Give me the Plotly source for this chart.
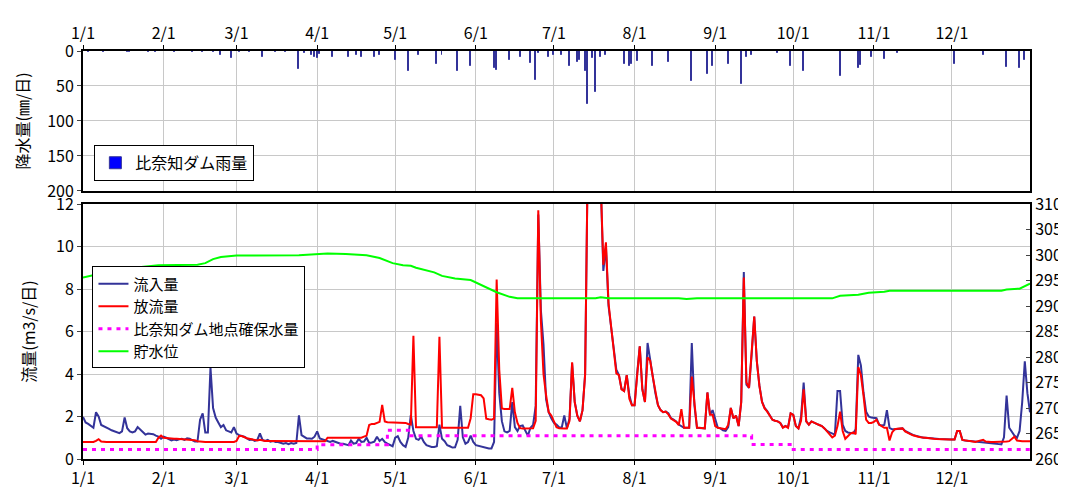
import pandas as pd
import plotly.graph_objects as go
from plotly.subplots import make_subplots

YEAR = "2021"
days = pd.date_range(f"{YEAR}-01-01", f"{YEAR}-12-31", freq="D")

# daily inflow (m3/s), one list per month
inflow_jan = [1.98, 1.72, 1.65, 1.57, 1.47, 2.2, 2.0, 1.6, 1.55, 1.5, 1.42, 1.35, 1.3, 1.25, 1.22, 1.3,
              1.95, 1.45, 1.3, 1.25, 1.3, 1.5, 1.38, 1.25, 1.15, 1.2, 1.2, 1.17, 1.1, 1.05, 0.95]
inflow_feb = [1.05, 1.0, 0.92, 0.88, 0.92, 0.88, 0.93, 0.95, 0.9, 0.97, 0.95, 0.88, 0.82, 0.82,
              1.85, 2.15, 1.25, 1.25, 4.3, 2.4, 1.95, 1.72, 1.5, 1.6, 1.35, 1.3, 1.25, 1.5]
inflow_mar = [1.2, 1.12, 1.08, 1.05, 0.97, 0.9, 0.92, 0.85, 0.9, 1.2, 0.9, 0.85, 0.9, 0.82, 0.85, 0.8,
              0.8, 0.75, 0.72, 0.75, 0.7, 0.75, 0.72, 0.75, 2.05, 1.12, 1.05, 0.97, 0.97, 0.95, 1.05]
inflow_apr = [1.3, 0.97, 0.93, 0.88, 0.84, 0.8, 0.85, 0.8, 0.75, 0.72, 0.72, 0.7, 0.65, 0.87, 0.72,
              0.75, 0.95, 0.8, 0.82, 1.0, 0.75, 0.78, 0.82, 1.05, 0.85, 0.95, 0.8, 0.72, 0.65, 0.6]
inflow_may = [1.0, 1.07, 0.8, 0.65, 0.57, 1.0, 2.07, 1.32, 0.95, 0.9, 1.05, 0.8, 0.65, 0.6, 0.57, 0.57,
              0.6, 1.62, 0.95, 0.84, 0.65, 0.6, 0.54, 0.55, 0.9, 2.5, 1.02, 0.72, 0.8, 1.1, 0.8]
inflow_jun = [0.65, 0.62, 0.6, 0.57, 0.52, 0.5, 0.5, 0.8, 6.4, 3.1, 1.78, 1.3, 1.25, 1.32, 2.68,
              1.5, 1.32, 1.55, 1.58, 1.35, 1.1, 1.47, 1.6, 2.5, 11.5, 7.0, 5.4, 2.8, 2.2, 1.92]
inflow_jul = [1.7, 1.62, 1.5, 1.47, 2.05, 1.45, 1.9, 4.5, 2.7, 2.04, 1.77, 2.3, 4.0, 14.0, 22.0, 24.0,
              20.0, 17.0, 13.0, 8.85, 10.0, 7.2, 6.3, 5.2, 4.2, 3.95, 3.3, 3.2, 3.95, 3.0, 2.53]
inflow_aug = [2.53, 4.03, 5.3, 3.28, 2.68, 5.46, 4.63, 3.88, 3.1, 2.53, 2.3, 2.2, 2.23, 2.15, 1.92,
              1.85, 1.77, 1.62, 1.55, 1.47, 1.47, 1.47, 5.46, 2.53, 1.47, 1.47, 1.45, 1.44, 3.13, 2.08, 2.3]
inflow_sep = [1.92, 1.47, 1.44, 1.35, 1.32, 1.5, 2.4, 1.92, 2.04, 1.55, 2.68, 8.8, 3.5, 3.35, 4.9,
              6.7, 4.6, 3.45, 2.7, 2.4, 2.25, 2.05, 1.85, 1.8, 1.77, 1.7, 1.5, 1.55, 1.5, 2.15]
inflow_oct = [2.08, 1.55, 1.44, 2.0, 3.6, 1.77, 1.62, 1.77, 1.7, 1.65, 1.6, 1.55, 1.44, 1.32, 1.25,
              1.2, 1.15, 3.2, 3.2, 1.62, 1.32, 1.25, 1.22, 1.2, 1.4, 4.9, 4.4, 3.13, 2.23, 2.0, 1.95]
inflow_nov = [1.95, 1.92, 1.62, 1.58, 1.6, 2.3, 1.47, 1.4, 1.4, 1.42, 1.44, 1.44, 1.32, 1.25, 1.17,
              1.13, 1.1, 1.06, 1.02, 1.0, 1.0, 0.98, 0.97, 0.96, 0.95, 0.94, 0.93, 0.93, 0.92, 0.92]
inflow_dec = [0.92, 0.92, 1.32, 1.32, 0.9, 0.87, 0.86, 0.85, 0.83, 0.8, 0.8, 0.78, 0.8, 0.76, 0.75,
              0.75, 0.73, 0.72, 0.7, 0.69, 1.02, 2.98, 1.47, 1.25, 1.1, 1.0, 1.32, 2.68, 4.6, 3.1, 2.2]

# daily outflow (m3/s)
outflow_jan = [0.8, 0.8, 0.8, 0.8, 0.8, 0.85, 0.93, 0.82, 0.8, 0.8, 0.8, 0.8, 0.8, 0.8, 0.8, 0.8,
               0.8, 0.8, 0.8, 0.8, 0.8, 0.8, 0.8, 0.8, 0.8, 0.8, 0.8, 0.8, 0.8, 1.0, 1.1]
outflow_feb = [1.0, 0.98, 0.97, 0.96, 0.95, 0.95, 0.94, 0.93, 0.93, 0.92, 0.92, 0.9, 0.88, 0.84,
               0.82, 0.81, 0.8, 0.8, 0.8, 0.8, 0.8, 0.8, 0.8, 0.8, 0.8, 0.8, 0.8, 0.8]
outflow_mar = [0.85, 1.08, 1.08, 1.02, 0.98, 0.95, 0.92, 0.88, 0.87, 0.9, 0.87, 0.85, 0.85, 0.85,
               0.85, 0.84, 0.83, 0.82, 0.82, 0.82, 0.82, 0.82, 0.82, 0.82, 0.82, 0.82, 0.82, 0.82,
               0.82, 0.82, 0.82]
outflow_apr = [0.83, 0.83, 0.83, 0.83, 1.0, 1.0, 1.0, 1.0, 1.0, 1.0, 1.0, 1.0, 1.0, 1.0, 1.0, 1.0,
               1.0, 1.0, 1.05, 1.1, 1.6, 1.65, 1.65, 1.7, 1.75, 2.55, 1.77, 1.73, 1.73, 1.73]
outflow_may = [1.7, 1.7, 1.7, 1.7, 1.7, 1.65, 1.62, 5.8, 1.5, 1.5, 1.5, 1.5, 1.5, 1.5, 1.5, 1.5,
               1.5, 5.75, 1.47, 1.47, 1.47, 1.47, 1.47, 1.47, 1.47, 1.47, 1.47, 1.47, 1.47, 1.92, 3.05]
outflow_jun = [3.05, 3.02, 3.0, 2.85, 1.9, 1.87, 1.85, 1.9, 8.45, 4.2, 2.38, 2.35, 2.35, 2.35, 3.35,
               2.2, 1.7, 1.45, 1.43, 1.43, 1.43, 1.43, 1.45, 1.8, 11.7, 6.5, 4.0, 3.0, 2.2, 2.05]
outflow_jul = [1.8, 1.5, 1.45, 1.43, 1.43, 1.43, 1.8, 4.55, 2.67, 2.04, 1.77, 2.3, 3.95, 14.0, 22.0,
               24.0, 20.0, 17.0, 13.0, 9.14, 10.2, 7.33, 6.3, 5.23, 4.03, 3.95, 3.28, 3.2, 3.95, 2.83, 2.53]
outflow_aug = [2.53, 4.03, 5.3, 3.28, 2.68, 4.78, 4.63, 3.88, 3.1, 2.53, 2.3, 2.2, 2.23, 2.1, 1.9,
               1.82, 1.75, 1.6, 2.35, 1.47, 1.47, 1.47, 3.88, 2.53, 1.47, 1.47, 1.45, 1.44, 3.13, 2.08, 2.08]
outflow_sep = [1.55, 1.47, 1.44, 1.4, 1.4, 1.6, 2.4, 1.92, 2.04, 1.55, 2.68, 8.54, 3.6, 3.35, 4.9,
               6.7, 4.6, 3.43, 2.68, 2.38, 2.23, 2.04, 1.85, 1.8, 1.77, 1.7, 1.47, 1.55, 1.47, 2.15]
outflow_oct = [2.08, 1.55, 1.44, 1.8, 3.28, 1.77, 1.62, 1.77, 1.7, 1.65, 1.6, 1.55, 1.44, 1.3, 1.15,
               1.02, 1.1, 1.55, 2.23, 1.32, 0.95, 1.1, 1.2, 1.25, 1.17, 4.33, 3.95, 3.0, 1.85, 1.7, 1.7]
outflow_nov = [1.75, 1.85, 1.62, 1.55, 1.47, 1.47, 0.87, 1.25, 1.4, 1.42, 1.44, 1.44, 1.3, 1.22, 1.17,
               1.12, 1.1, 1.05, 1.02, 1.0, 1.0, 0.97, 0.96, 0.95, 0.94, 0.93, 0.93, 0.92, 0.92, 0.92]
outflow_dec = [0.92, 0.92, 1.32, 1.32, 0.9, 0.87, 0.86, 0.85, 0.83, 0.8, 0.84, 0.86, 0.9, 0.82, 0.8,
               0.8, 0.8, 0.8, 0.8, 0.8, 0.8, 0.82, 0.84, 0.95, 1.05, 0.87, 0.84, 0.84, 0.84, 0.84, 0.84]

inflow = (inflow_jan + inflow_feb + inflow_mar + inflow_apr + inflow_may + inflow_jun
          + inflow_jul + inflow_aug + inflow_sep + inflow_oct + inflow_nov + inflow_dec)
outflow = (outflow_jan + outflow_feb + outflow_mar + outflow_apr + outflow_may + outflow_jun
           + outflow_jul + outflow_aug + outflow_sep + outflow_oct + outflow_nov + outflow_dec)

# secured flow at the dam point (step changes)
secured_dates = ["01-01", "04-01", "04-28", "05-07", "09-15", "10-01", "12-31"]
secured_flow = [0.45, 0.67, 1.35, 1.1, 0.68, 0.45, 0.45]

# reservoir level (EL.m)
level_dates = ["01-01", "01-08", "01-15", "01-30", "02-14", "02-17", "02-20", "02-23", "03-01",
               "03-25", "04-05", "04-12", "04-20", "04-25", "04-30", "05-04", "05-07", "05-09",
               "05-16", "05-19", "05-24", "05-30", "06-01", "06-05", "06-09", "06-14", "06-17",
               "07-17", "07-19", "07-22", "08-18", "08-21", "08-25", "10-16", "10-19", "10-26",
               "10-30", "11-05", "11-07", "12-20", "12-22", "12-27", "12-31"]
level = [295.6, 296.4, 297.2, 298.0, 298.1, 298.4, 299.2, 299.6, 299.9,
         299.95, 300.3, 300.2, 299.95, 299.4, 298.4, 298.0, 297.9, 297.5,
         296.6, 295.9, 295.4, 295.1, 294.6, 293.7, 292.7, 291.8, 291.5,
         291.5, 291.7, 291.5, 291.5, 291.35, 291.5, 291.5, 292.0, 292.2,
         292.6, 292.8, 293.0, 293.0, 293.25, 293.4, 294.4]

# daily rainfall (mm), days with rain only
rain_dates = ["01-03", "01-09", "01-18", "01-19", "01-26", "01-29", "02-05", "02-12", "02-16",
              "02-20", "02-23", "02-27", "03-02", "03-06", "03-11", "03-16", "03-20", "03-25",
              "03-27", "03-30", "03-31", "04-01", "04-02", "04-07", "04-13", "04-16", "04-18",
              "04-23", "04-25", "05-01", "05-06", "05-10", "05-17", "05-19", "05-25", "05-30",
              "06-08", "06-09", "06-14", "06-18", "06-22", "06-24", "06-25", "06-29", "07-01",
              "07-04", "07-07", "07-10", "07-11", "07-13", "07-14", "07-16", "07-17", "07-19",
              "07-21", "07-28", "07-30", "07-31", "08-02", "08-08", "08-14", "08-23", "08-29",
              "08-31", "09-06", "09-11", "09-13", "09-15", "09-25", "09-30", "10-05", "10-19",
              "10-26", "10-27", "10-31", "11-05", "11-10", "12-02", "12-13", "12-22", "12-27",
              "12-29"]
rain_mm = [1, 1, 2, 1, 2, 1, 1, 2, 1,
           2, 5.5, 10, 2, 1, 8, 1, 1, 26,
           3, 5, 8, 10, 4, 8, 9, 5, 9,
           8, 5, 13, 29, 6, 19, 5, 29, 22,
           25, 27, 13, 8, 17, 42, 3, 8, 5,
           5, 22, 15, 13, 28, 76, 10, 58, 8,
           5, 19, 22, 19, 14, 22, 15, 43, 33,
           21, 18, 47, 8, 6, 3, 22, 28, 36,
           25, 20, 8, 11, 3, 19, 6, 23, 25,
           13]

month_ticks = [f"{YEAR}-{m:02d}-01" for m in range(1, 13)]
month_text = [f"{m}/1" for m in range(1, 13)]

FONT = "Noto Sans CJK JP"
GRID = "#c8c8c8"


def d(md):
    return f"{YEAR}-{md}"


fig = make_subplots(rows=2, cols=1, shared_xaxes=True, specs=[[{}], [{"secondary_y": True}]])

fig.add_trace(
    go.Bar(x=[d(v) for v in rain_dates], y=rain_mm, name="比奈知ダム雨量", width=0.35 * 86400000,
           marker=dict(color="#0000ff", line=dict(color="#333399", width=1)), legend="legend"),
    row=1, col=1,
)
fig.add_trace(
    go.Scatter(x=days, y=inflow, mode="lines", name="流入量", line=dict(color="#333399", width=2),
               legend="legend2"),
    row=2, col=1, secondary_y=False,
)
fig.add_trace(
    go.Scatter(x=days, y=outflow, mode="lines", name="放流量", line=dict(color="#ff0000", width=2),
               legend="legend2"),
    row=2, col=1, secondary_y=False,
)
fig.add_trace(
    go.Scatter(x=[d(v) for v in secured_dates], y=secured_flow, mode="lines", name="比奈知ダム地点確保水量",
               line=dict(color="#ff00ff", width=3, dash="4px,5px", shape="hv"), legend="legend2"),
    row=2, col=1, secondary_y=False,
)
fig.add_trace(
    go.Scatter(x=[d(v) for v in level_dates], y=level, mode="lines", name="貯水位",
               line=dict(color="#00ff00", width=2), legend="legend2"),
    row=2, col=1, secondary_y=True,
)

xcommon = dict(
    type="date", domain=[0.0, 1.0], range=[f"{YEAR}-01-01", f"{YEAR}-12-31"], tickvals=month_ticks,
    ticktext=month_text, showgrid=True, gridcolor=GRID, gridwidth=1, showline=True, linecolor="black",
    linewidth=2, mirror=True, ticks="outside", ticklen=4, tickcolor="black", zeroline=False,
)
fig.update_layout(
    xaxis=dict(**xcommon, side="top", showticklabels=True),
    xaxis2=dict(**xcommon, side="bottom", showticklabels=True),
    yaxis=dict(domain=[0.657, 1.0], range=[200, 0], dtick=50, showgrid=True, gridcolor=GRID,
               showline=True, linecolor="black", linewidth=2, mirror=True, ticks="outside", ticklen=4,
               zeroline=False, tickfont=dict(size=16),
               title=dict(text="降水量(㎜/日)", standoff=14, font=dict(size=16))),
    yaxis2=dict(domain=[0.0, 0.625], range=[0, 12], dtick=2, showgrid=True, gridcolor=GRID,
                showline=True, linecolor="black", linewidth=2, mirror=True, ticks="outside", ticklen=4,
                zeroline=False, tickfont=dict(size=16),
                title=dict(text="流量(m3/s/日)", standoff=16, font=dict(size=16))),
    yaxis3=dict(range=[260, 310], dtick=5, showgrid=False, showline=True, linecolor="black",
                linewidth=2, ticks="inside", ticklen=4, zeroline=False),
    font=dict(family=FONT, size=16, color="black"),
    plot_bgcolor="white",
    paper_bgcolor="white",
    width=1066,
    height=493,
    margin=dict(l=75, r=41, t=43, b=39),
    bargap=0,
    legend=dict(x=0.012, y=0.77, xanchor="left", yanchor="top", bgcolor="white", bordercolor="black",
                borderwidth=1, font=dict(size=16), itemwidth=30),
    legend2=dict(x=0.010, y=0.472, xanchor="left", yanchor="top", bgcolor="white", bordercolor="black",
                 borderwidth=1, font=dict(size=15), tracegroupgap=0),
    showlegend=True,
)

fig.write_html("out.html")
